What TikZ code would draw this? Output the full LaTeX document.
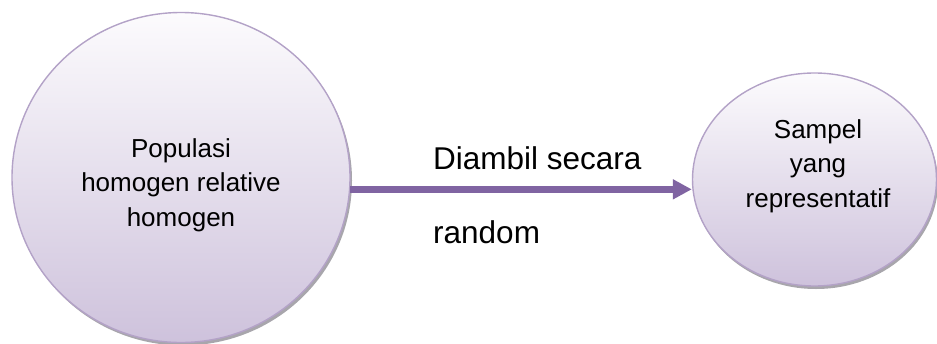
\documentclass[tikz,border=0pt]{standalone}
\usepackage{fontspec}
\setmainfont{Liberation Sans}
\usetikzlibrary{shapes.geometric,arrows.meta}

\definecolor{rimpurple}{HTML}{B3A2C7}
\definecolor{flowpurple}{HTML}{8064A2}
\definecolor{filltop}{HTML}{FCFBFD}
\definecolor{fillbottom}{HTML}{CEC2DC}
\definecolor{shadowgrey}{HTML}{A8A6AC}

\tikzset{
  bubble/.style={ellipse, draw=rimpurple, line width=1.4pt,
    top color=filltop, bottom color=fillbottom, inner sep=0pt},
  bubbleshadow/.style={ellipse, fill=shadowgrey, inner sep=0pt},
  bubbletext/.style={align=center, font=\fontsize{26}{34.5}\selectfont},
  flowlabel/.style={anchor=base west, font=\fontsize{31.5}{36}\selectfont, inner sep=0pt},
  flow/.style={draw=flowpurple, line width=6.5pt,
    -{Triangle[length=19pt,width=19pt]}}
}

\begin{document}
\begin{tikzpicture}[x=1pt,y=-1pt]
  \useasboundingbox (0,0) rectangle (937,343);

  % soft shadows under both bubbles
  \node[bubbleshadow, minimum width=338pt, minimum height=330pt] (popshadow) at (183,180.5) {};
  \node[bubbleshadow, minimum width=244pt, minimum height=213pt] (sampshadow) at (816,182.5) {};

  % the two bubbles
  \node[bubble, minimum width=338pt, minimum height=330pt] (pop) at (181,177.5) {};
  \node[bubble, minimum width=244pt, minimum height=213pt] (samp) at (814.5,179.5) {};

  \node[bubbletext] (poptext) at (181,185) {Populasi\\homogen relative\\homogen};
  \node[bubbletext] (samptext) at (818,166) {Sampel\\yang\\representatif};

  % sampling arrow
  \draw[flow] (pop.-4) -- (pop.-4 -| samp.west);

  \node[flowlabel] (lab1) at (433,169) {Diambil secara};
  \node[flowlabel] (lab2) at (433,243) {random};
\end{tikzpicture}
\end{document}
